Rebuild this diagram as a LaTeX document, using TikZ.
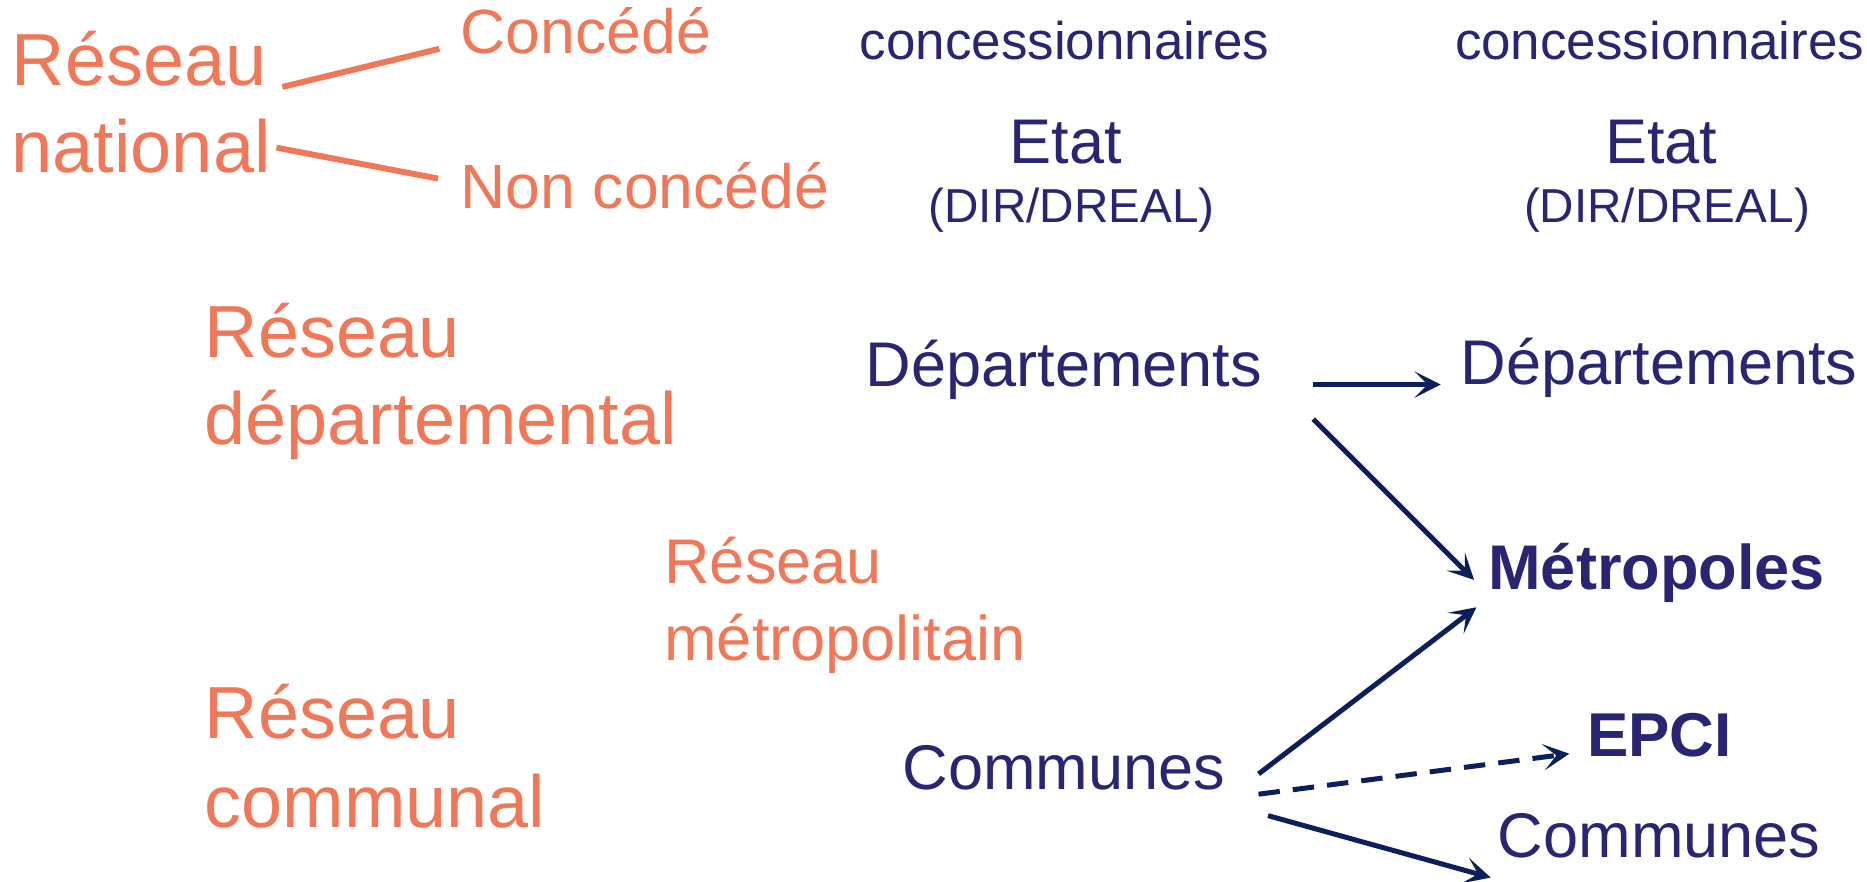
\documentclass[tikz,border=0pt]{standalone}
\usepackage{fontspec}
\setmainfont{Liberation Sans}
\usetikzlibrary{arrows.meta}
\definecolor{orng}{RGB}{240,120,88}
\definecolor{navytxt}{RGB}{42,37,115}
\definecolor{navyarr}{RGB}{12,31,92}
\tikzset{
  lbl/.style={anchor=base west,inner sep=0pt,outer sep=0pt,align=left},
  org/.style={lbl,text=orng},
  nav/.style={lbl,text=navytxt},
  oline/.style={draw=orng,line width=5pt},
  arr/.style={draw=navyarr,line width=4.2pt,-{Stealth[length=22pt,width=22pt,inset=11pt]}},
  darr/.style={arr,dash pattern=on 18pt off 11pt}
}
\newcommand{\fsz}[2]{\fontsize{#1}{#2}\selectfont}
\begin{document}
\begin{tikzpicture}[x=1pt,y=-1pt]
\useasboundingbox (0,0) rectangle (1568,740);
% orange labels
\node[org,font=\fsz{62}{73}] (rn) at (10,145) {Réseau\\national};
\node[org,font=\fsz{52.5}{60}] (conc) at (387,45) {Concédé};
\node[org,font=\fsz{52.5}{60}] (nonc) at (387,175) {Non concédé};
\node[org,font=\fsz{62}{73}] (rd) at (172,373) {Réseau\\départemental};
\node[org,font=\fsz{53}{65}] (rm) at (558,555) {Réseau\\métropolitain};
\node[org,font=\fsz{62}{75}] (rc) at (172,695) {Réseau\\communal};
% navy labels
\node[nav,font=\fsz{44.5}{50}] (cons1) at (722,50) {concessionnaires};
\node[nav,font=\fsz{44.5}{50}] (cons2) at (1222,50) {concessionnaires};
\node[nav,font=\fsz{53}{60}] (etat1) at (848,137) {Etat};
\node[nav,font=\fsz{53}{60}] (etat2) at (1348,137) {Etat};
\node[nav,font=\fsz{40}{46}] (dir1) at (780,187) {(DIR/DREAL)};
\node[nav,font=\fsz{40}{46}] (dir2) at (1280,187) {(DIR/DREAL)};
\node[nav,font=\fsz{53}{60}] (dep1) at (727,325) {Départements};
\node[nav,font=\fsz{53}{60}] (dep2) at (1227,323) {Départements};
\node[nav,font=\bfseries\fsz{53}{60}] (metro) at (1250,495) {Métropoles};
\node[nav,font=\bfseries\fsz{52}{60}] (epci) at (1333,635) {EPCI};
\node[nav,font=\fsz{53}{60}] (com1) at (758,663) {Communes};
\node[nav,font=\fsz{53}{60}] (com2) at (1258,720) {Communes};
% orange connectors
\draw[oline] ([shift={(10,-72)}]rn.base east) -- ([shift={(-18,-4)}]conc.base west);
\draw[oline] ([shift={(5,-21)}]rn.base east) -- ([shift={(-19,-25)}]nonc.base west);
% navy arrows
\draw[arr] ([shift={(43,-2)}]dep1.base east) -- ([shift={(-17,0)}]dep2.base west);
\draw[arr] ([shift={(43,27)}]dep1.base east) -- ([shift={(-12,-8)}]metro.base west);
\draw[arr] ([shift={(28,-13)}]com1.base east) -- ([shift={(-10,15)}]metro.base west);
\draw[darr] ([shift={(28,4)}]com1.base east) -- ([shift={(-15,-2)}]epci.base west);
\draw[arr] ([shift={(36,22)}]com1.base east) -- ([shift={(-6,17)}]com2.base west);
\end{tikzpicture}
\end{document}
